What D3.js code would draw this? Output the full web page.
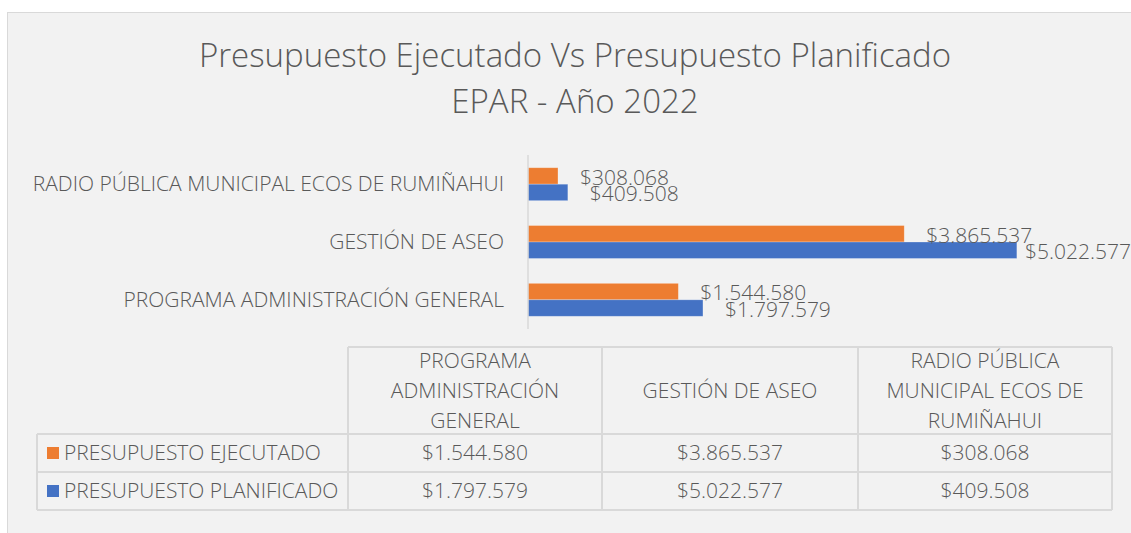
<!DOCTYPE html>
<html>
<head>
<meta charset="utf-8">
<title>Presupuesto EPAR 2022</title>
<style>
body { margin: 0; background: #fff; }
text { font-family: "Segoe UI", "Open Sans", sans-serif; font-weight: 300; fill: #595959; }
</style>
<script src="https://cdn.jsdelivr.net/npm/d3@7"></script>
</head>
<body>
<svg width="1131" height="533"></svg>
<script>
var categories = ["PROGRAMA ADMINISTRACIÓN GENERAL", "GESTIÓN DE ASEO", "RADIO PÚBLICA MUNICIPAL ECOS DE RUMIÑAHUI"];
var headerLines = [["PROGRAMA", "ADMINISTRACIÓN", "GENERAL"], ["GESTIÓN DE ASEO"], ["RADIO PÚBLICA", "MUNICIPAL ECOS DE", "RUMIÑAHUI"]];
var seriesNames = ["PRESUPUESTO EJECUTADO", "PRESUPUESTO PLANIFICADO"];
var ejecutado = [1544580, 3865537, 308068];
var planificado = [1797579, 5022577, 409508];
var colors = ["#ED7D31", "#4472C4"];

var series = [ejecutado, planificado];
var fmt = function(v) { return "$" + d3.format(",")(v).replace(/,/g, "."); };
var fs = "21px";

var svg = d3.select("svg");

// chart frame
svg.append("rect")
    .attr("x", 7.5).attr("y", 12.5)
    .attr("width", 1140).attr("height", 530)
    .attr("fill", "#f2f2f2")
    .attr("stroke", "#d9d9d9");

svg.append("text")
    .attr("x", 575).attr("y", 67)
    .attr("text-anchor", "middle")
    .style("font-size", "33px")
    .text("Presupuesto Ejecutado Vs Presupuesto Planificado");
svg.append("text")
    .attr("x", 575).attr("y", 113)
    .attr("text-anchor", "middle")
    .style("font-size", "33px")
    .text("EPAR - Año 2022");

var plot = {left: 528, right: 1112, top: 155, bottom: 329};

var x = d3.scaleLinear().domain([0, 6000000]).range([plot.left, plot.right]);

// categories top to bottom: reversed order
var y = d3.scaleBand()
    .domain(categories.slice().reverse())
    .range([plot.top, plot.bottom])
    .paddingInner(0.43).paddingOuter(0.22);

var inner = d3.scaleBand().domain([0, 1]).range([0, y.bandwidth()]);

var g = svg.append("g");

series.forEach(function(vals, si) {
  g.selectAll(".bar" + si)
    .data(categories)
    .enter().append("rect")
      .attr("x", x(0))
      .attr("y", function(c) { return y(c) + inner(si); })
      .attr("width", function(c, i) { return x(vals[i]) - x(0); })
      .attr("height", inner.bandwidth())
      .attr("fill", colors[si])
      .attr("stroke", "#ffffff")
      .attr("stroke-opacity", 0.35)
      .attr("stroke-width", 0.75);
});

g.append("line")
    .attr("x1", plot.left).attr("x2", plot.left)
    .attr("y1", plot.top).attr("y2", plot.bottom)
    .attr("stroke", "#d9d9d9").attr("stroke-width", 1.5);

var yAxis = d3.axisLeft(y).tickSize(0).tickPadding(24);
var ya = svg.append("g").attr("transform", "translate(" + plot.left + ",0)").call(yAxis);
ya.select(".domain").remove();
ya.selectAll("text").style("font-size", fs).attr("fill", "#595959")
    .style("font-family", null);

// data labels
series.forEach(function(vals, si) {
  g.selectAll(".lab" + si)
    .data(categories)
    .enter().append("text")
      .attr("x", function(c, i) { return x(vals[i]) + 22; })
      .attr("y", function(c) { return y(c) + inner(si) + inner.bandwidth() / 2; })
      .attr("dy", "0.42em")
      .style("font-size", fs)
      .text(function(c, i) { return fmt(vals[i]); })
      .each(function() {
        var w = this.getComputedTextLength();
        var cx = +d3.select(this).attr("x");
        if (cx + w > 1131) d3.select(this).attr("x", 1131 - w);
      });
});

// data table
var cols = [37, 348, 602, 858, 1112];
var rows = [347, 434, 472, 510];
var tbl = svg.append("g");
var lineColor = "#d9d9d9";

// horizontal lines
tbl.append("line").attr("x1", cols[1]).attr("x2", cols[4]).attr("y1", rows[0]).attr("y2", rows[0]);
for (var r = 1; r < rows.length; r++) {
  tbl.append("line").attr("x1", cols[0]).attr("x2", cols[4]).attr("y1", rows[r]).attr("y2", rows[r]);
}
// vertical lines
tbl.append("line").attr("x1", cols[0]).attr("x2", cols[0]).attr("y1", rows[1]).attr("y2", rows[3]);
for (var c = 1; c < cols.length; c++) {
  tbl.append("line").attr("x1", cols[c]).attr("x2", cols[c]).attr("y1", rows[0]).attr("y2", rows[3]);
}
tbl.selectAll("line").attr("stroke", lineColor).attr("stroke-width", 2);

// header cells
headerLines.forEach(function(lines, i) {
  var cx = (cols[i + 1] + cols[i + 2]) / 2;
  var cy = (rows[0] + rows[1]) / 2;
  lines.forEach(function(t, k) {
    tbl.append("text")
      .attr("x", cx)
      .attr("y", cy + (k - (lines.length - 1) / 2) * 30)
      .attr("dy", "0.35em")
      .attr("text-anchor", "middle")
      .style("font-size", fs)
      .text(t);
  });
});

// rows
series.forEach(function(vals, si) {
  var cy = (rows[si + 1] + rows[si + 2]) / 2;
  tbl.append("rect")
    .attr("x", 47).attr("y", cy - 6)
    .attr("width", 12).attr("height", 12)
    .attr("fill", colors[si]);
  tbl.append("text")
    .attr("x", 64).attr("y", cy)
    .attr("dy", "0.35em")
    .style("font-size", fs)
    .text(seriesNames[si]);
  vals.forEach(function(v, i) {
    tbl.append("text")
      .attr("x", (cols[i + 1] + cols[i + 2]) / 2)
      .attr("y", cy)
      .attr("dy", "0.35em")
      .attr("text-anchor", "middle")
      .style("font-size", fs)
      .text(fmt(v));
  });
});
</script>
</body>
</html>
